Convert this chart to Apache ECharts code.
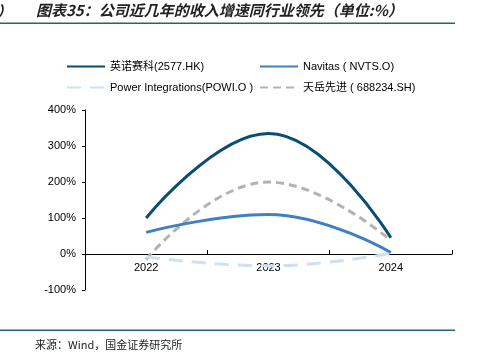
<!DOCTYPE html>
<html><head><meta charset="utf-8">
<script src="https://cdn.jsdelivr.net/npm/echarts@6/dist/echarts.min.js"></script>
<style>html,body{margin:0;padding:0;background:#fff}#c{width:478px;height:356px}</style>
</head><body><div id="c"></div>
<script>
const categories = ['2022', '2023', '2024'];
const seriesNames = ['英诺赛科(2577.HK)', 'Navitas ( NVTS.O)', 'Power Integrations(POWI.O )', '天岳先进 ( 688234.SH)'];
const innoscience = [100, 335, 45];
const navitas = [60, 110, 4];
const powi = [-8, -33, 2];
const sicc = [-15, 200, 38];
const yTicks = [-100, 0, 100, 200, 300, 400];

const FONT = '"Liberation Sans", Arial, "Noto Sans CJK SC", sans-serif';
const colors = ['#0b4d72', '#3f7fc3', '#cfe0f1', '#b3b3b3'];
const dashes = ['solid', 'solid', [14, 9], [8, 5]];
const dataArr = [innoscience, navitas, powi, sicc];

const chart = echarts.init(document.getElementById('c'));
const legendPos = [[61, 56], [254, 56], [61, 77], [254, 77]];
chart.setOption({
  animation: false,
  grid: { left: 85, right: 26, top: 110, bottom: 66 },
  legend: seriesNames.map((n, i) => ({
    show: true,
    data: [n], left: legendPos[i][0], top: legendPos[i][1],
    orient: 'horizontal',
    itemWidth: 38, itemHeight: 14, itemGap: 4,
    itemStyle: { opacity: 0 },
    textStyle: { fontFamily: FONT, fontSize: 11, color: '#000' }
  })),
  xAxis: {
    type: 'category', data: categories, boundaryGap: true,
    axisLine: { onZero: false, lineStyle: { color: '#000', width: 1 } },
    offset: -36,
    axisTick: { show: true, inside: true, length: 4, lineStyle: { color: '#000' } },
    axisLabel: { fontFamily: FONT, fontSize: 11, color: '#000', margin: 8 }
  },
  yAxis: {
    type: 'value', min: yTicks[0], max: yTicks[yTicks.length - 1], interval: 100,
    splitLine: { show: false },
    axisLine: { show: true, lineStyle: { color: '#000', width: 1 } },
    axisTick: { show: true, length: 3, lineStyle: { color: '#000' } },
    axisLabel: { fontFamily: FONT, fontSize: 11, color: '#000', formatter: '{value}%', margin: 9 }
  },
  series: seriesNames.map((n, i) => ({
    name: n, type: 'line', smooth: 0.45, symbol: 'none',
    data: dataArr[i],
    itemStyle: { color: colors[i] },
    lineStyle: { color: colors[i], width: 3, type: dashes[i] },
    z: 4 - i
  })),
  graphic: [
    { type: 'text', left: -3, top: 4, style: { text: '）', font: 'italic bold 15px "Noto Sans CJK SC"', fill: '#222' } },
    { type: 'text', left: 36, top: 3, style: { text: '图表35：公司近几年的收入增速同行业领先（单位:%）', font: 'italic bold 15px "Noto Sans CJK SC"', fill: '#222' } },
    { type: 'rect', shape: { x: 0, y: 22.5, width: 455, height: 1.5 }, style: { fill: '#2a5f80' } },
    { type: 'rect', shape: { x: 0, y: 329.5, width: 455, height: 1.5 }, style: { fill: '#2a5f80' } },
    { type: 'text', left: 35, top: 339, style: { text: '来源：Wind，国金证券研究所', font: '11px "Noto Sans CJK SC"', fill: '#222' } }
  ]
});
</script></body></html>
